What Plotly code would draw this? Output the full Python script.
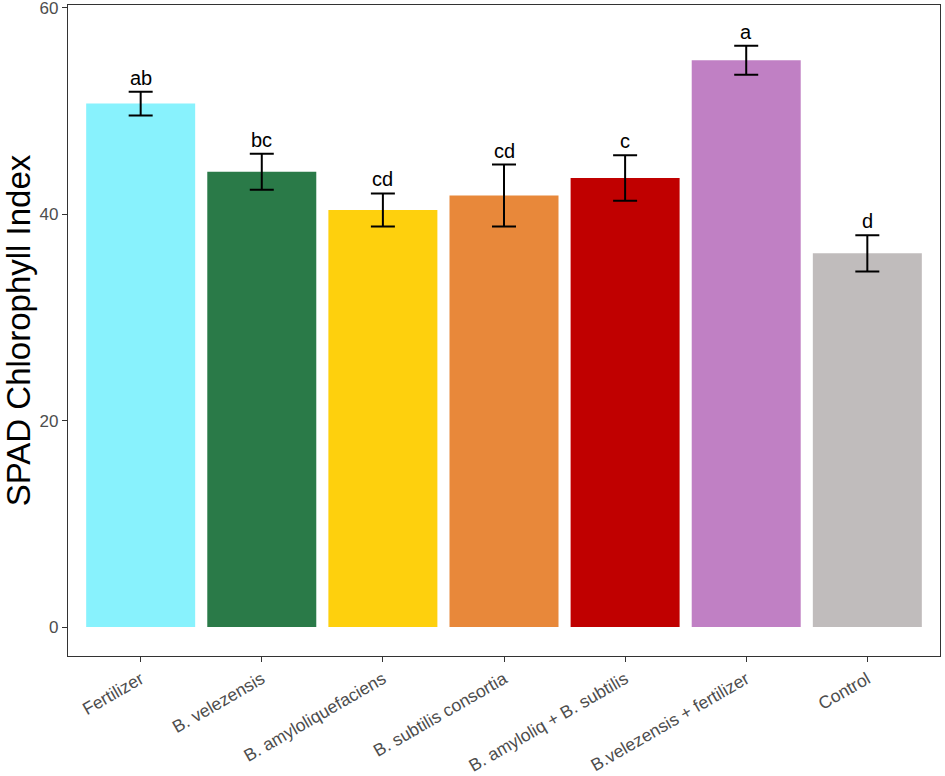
import plotly.graph_objects as go

categories = [
    "Fertilizer",
    "B. velezensis",
    "B. amyloliquefaciens",
    "B. subtilis consortia",
    "B. amyloliq + B. subtilis",
    "B.velezensis + fertilizer",
    "Control",
]
means = [50.7, 44.1, 40.4, 41.8, 43.5, 54.9, 36.2]
errors = [1.15, 1.75, 1.6, 3.0, 2.2, 1.4, 1.75]
letters = ["ab", "bc", "cd", "cd", "c", "a", "d"]
colors = ["#88F2FD", "#2A7A48", "#FED00D", "#E8883A", "#C00000", "#C080C4", "#C0BCBC"]

fig = go.Figure()
fig.add_trace(go.Bar(
    x=list(range(len(categories))),
    y=means,
    width=0.9,
    marker=dict(color=colors, line=dict(width=0)),
    error_y=dict(type="data", array=errors, visible=True, color="black",
                 thickness=2, width=12),
    showlegend=False,
))

for i, (m, e, t) in enumerate(zip(means, errors, letters)):
    fig.add_annotation(x=i, y=m + e, text=t, showarrow=False,
                       yanchor="bottom", yshift=1,
                       font=dict(size=20, color="black", family="Liberation Sans"))

fig.add_annotation(x=-0.0565, y=0.5, xref="paper", yref="paper",
                   text="SPAD Chlorophyll Index", textangle=-90, showarrow=False,
                   xanchor="center", yanchor="middle",
                   font=dict(size=33, color="black", family="Liberation Sans"))

fig.update_layout(
    width=945, height=776,
    margin=dict(l=68, r=5, t=5, b=120, autoexpand=False),
    plot_bgcolor="white", paper_bgcolor="white",
    font=dict(family="Liberation Sans"),
)
fig.update_xaxes(
    tickvals=list(range(len(categories))), ticktext=categories,
    range=[-0.6, 6.6], tickangle=-30, automargin=False,
    showline=True, mirror=True, linecolor="#333333", linewidth=1.3,
    ticks="outside", ticklen=5, tickcolor="#333333", tickwidth=1.3,
    tickfont=dict(size=17.5, color="#4d4d4d"), showgrid=False,
    ticklabeloverflow="allow",
)
fig.update_yaxes(
    tickvals=[0, 20, 40, 60], range=[-2.8, 60.25], automargin=False,
    showline=True, mirror=True, linecolor="#333333", linewidth=1.3,
    ticks="outside", ticklen=5, tickcolor="#333333", tickwidth=1.3,
    tickfont=dict(size=17, color="#4d4d4d"), showgrid=False, zeroline=False,
    ticklabeloverflow="allow",
)

fig.write_html("out.html", config={"displayModeBar": False},
               post_script="document.body.style.margin='0';")
